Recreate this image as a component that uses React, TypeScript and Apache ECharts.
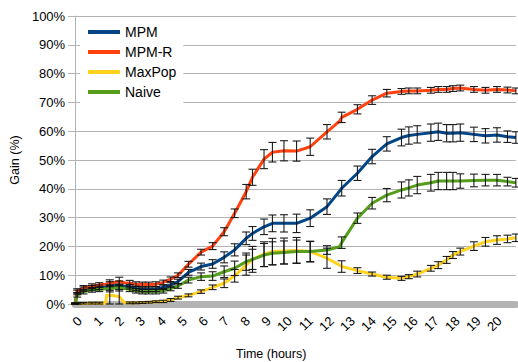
import React, { useEffect, useRef } from "react";
import * as echarts from "echarts";

const hours = [0, 0.1, 0.4, 0.8, 1.15, 1.45, 1.5, 1.65, 2.1, 2.35, 2.6, 2.9, 3.2, 3.5, 3.85, 4.2, 4.55, 4.9, 5.4, 6.0, 6.55, 7.1, 7.6, 8.15, 8.45, 9.0, 9.4, 9.95, 10.55, 11.2, 12.0, 12.6, 12.7, 13.45, 14.15, 14.85, 15.55, 15.9, 16.3, 16.95, 17.3, 17.7, 18.0, 18.35, 19.0, 19.55, 20.1, 20.6, 21.0];

const mpm = [0, 4.0, 5.1, 5.6, 5.8, 6.0, 6.1, 6.25, 6.5, 6.2, 6.0, 5.4, 5.1, 5.1, 5.1, 5.8, 6.6, 7.8, 11.0, 13.0, 13.9, 16.2, 18.8, 22.8, 24.5, 26.8, 28.0, 28.0, 28.0, 29.8, 33.8, 39.2, 40.2, 45.4, 51.2, 55.6, 57.8, 58.5, 58.9, 59.5, 59.8, 59.3, 59.3, 59.5, 58.9, 58.4, 58.7, 58.1, 57.8];
const mpmErr = [0.3, 0.8, 0.8, 0.8, 0.8, null, null, 1.5, 1.5, null, 0.8, 0.8, 0.8, 0.8, 0.8, 0.8, 0.8, 0.8, 1.0, 1.2, 1.5, 1.9, 2.1, 2.2, 2.4, 2.7, 2.9, 3.0, 3.2, 2.9, 2.7, null, 2.7, 2.5, 2.5, 2.5, 2.9, 3.0, 3.0, 3.0, 3.0, 3.0, 3.0, 3.0, 2.5, 2.5, 2.5, 2.0, 2.0];

const mpmR = [0, 4.5, 5.6, 6.2, 6.6, 6.9, 7.0, 7.2, 7.8, 7.4, 7.2, 6.9, 6.8, 6.8, 6.9, 7.5, 8.6, 10.0, 13.8, 18.0, 20.1, 25.1, 31.5, 39.0, 44.0, 50.3, 52.7, 53.2, 53.1, 54.6, 59.8, 63.5, 64.8, 67.6, 70.8, 73.2, 73.8, 74.0, 74.0, 74.2, 74.5, 74.5, 74.8, 75.0, 74.5, 74.2, 74.5, 74.3, 74.0];
const mpmRErr = [0.3, 0.8, 0.8, 0.8, 0.8, null, null, 1.2, 1.5, null, 1.0, 0.8, 0.8, 0.8, 0.8, 0.8, 0.8, 0.8, 1.0, 1.0, 1.2, 1.4, 1.5, 2.5, 2.8, 3.3, 3.4, 3.5, 3.5, 3.0, 2.5, null, 1.8, 1.6, 1.5, 1.3, 1.0, 1.0, 1.0, 1.0, 1.0, 1.0, 1.0, 1.0, 1.0, 1.0, 1.0, 1.0, 1.0];

const maxPop = [0, 0.2, 0.2, 0.3, 0.3, 0.3, 3.0, 3.0, 2.6, 0.4, 0.4, 0.4, 0.5, 0.6, 0.8, 0.9, 1.4, 2.2, 3.0, 4.3, 5.8, 7.2, 9.8, 13.5, 15.5, 17.3, 18.2, 18.4, 18.6, 18.2, 15.9, 13.5, 13.0, 11.6, 10.4, 9.3, 8.9, 9.5, 10.4, 12.4, 13.5, 15.3, 17.0, 18.2, 20.1, 21.6, 22.2, 22.6, 23.0];
const maxPopErr = [0.3, 0.3, 0.3, 0.3, 0.3, null, null, 3.5, 4.0, null, 0.3, 0.3, 0.3, 0.3, 0.3, 0.4, 0.5, 0.5, 0.5, 0.6, 0.8, 1.5, 2.2, 3.5, 4.5, 4.3, 4.6, 4.5, 4.5, 3.6, 3.5, null, 2.0, 1.0, 0.7, 0.7, 0.7, 0.7, 1.0, 1.0, 1.2, 1.2, 1.2, 1.2, 1.5, 1.5, 1.5, 1.3, 1.3];

const naive = [0, 3.2, 4.3, 4.9, 5.1, 5.3, 5.3, 5.4, 5.7, 5.4, 5.1, 4.6, 4.3, 4.3, 4.3, 4.6, 5.4, 6.25, 8.3, 9.5, 9.7, 11.2, 12.4, 14.7, 15.5, 17.0, 17.6, 17.9, 18.2, 18.2, 18.75, 19.9, 21.3, 29.8, 35.0, 37.8, 39.6, 40.3, 41.3, 42.1, 42.7, 42.7, 42.7, 42.7, 42.9, 43.0, 43.0, 42.5, 42.1];
const naiveErr = [0.3, 0.8, 0.8, 0.8, 0.8, null, null, 1.2, 1.2, null, 0.8, 0.8, 0.8, 0.8, 0.8, 0.8, 0.8, 0.8, 1.0, 1.3, 1.5, 2.0, 2.5, 3.0, 3.5, 4.0, 4.0, 4.0, 4.0, 3.5, 1.5, null, 2.0, 1.8, 2.0, 2.3, 2.8, 2.8, 3.0, 2.9, 3.0, 3.0, 3.0, 2.5, 2.2, 2.0, 2.0, 1.5, 1.5];

const seriesNames = ["MPM", "MPM-R", "MaxPop", "Naive"];
const seriesColors = ["#004586", "#ff420e", "#ffd320", "#579d1c"];
const seriesValues = [mpm, mpmR, maxPop, naive];
const seriesErrors = [mpmErr, mpmRErr, maxPopErr, naiveErr];

const yTicks = [0, 10, 20, 30, 40, 50, 60, 70, 80, 90, 100];

const FONT = "Liberation Sans, Arial, sans-serif";

export default function App() {
  const ref = useRef<HTMLDivElement>(null);

  useEffect(() => {
    if (!ref.current) return;
    const chart = echarts.init(ref.current, undefined, { renderer: "svg" });

    const lineSeries = seriesNames.map((name, s) => ({
      name,
      type: "line",
      data: hours.map((h, i) => [h, seriesValues[s][i]]),
      symbol: "none",
      showSymbol: false,
      lineStyle: { color: seriesColors[s], width: 3, join: "round" },
      itemStyle: { color: seriesColors[s] },
      z: 2,
    }));

    const errSeries = seriesNames.map((name, s) => ({
      name: name + " error",
      type: "custom",
      z: 3,
      data: hours
        .map((h, i) => {
          const e = seriesErrors[s][i];
          if (e == null) return null;
          const v = seriesValues[s][i];
          return [h, Math.max(0, v - e), v + e];
        })
        .filter((d) => d !== null),
      encode: { x: 0, y: [1, 2] },
      renderItem: (params: any, api: any) => {
        const x = api.value(0);
        const lo = api.coord([x, api.value(1)]);
        const hi = api.coord([x, api.value(2)]);
        const w = 4;
        const style = { stroke: "#111111", lineWidth: 1.1, opacity: 0.95 };
        return {
          type: "group",
          children: [
            { type: "line", shape: { x1: lo[0], y1: lo[1], x2: hi[0], y2: hi[1] }, style },
            { type: "line", shape: { x1: lo[0] - w, y1: lo[1], x2: lo[0] + w, y2: lo[1] }, style },
            { type: "line", shape: { x1: hi[0] - w, y1: hi[1], x2: hi[0] + w, y2: hi[1] }, style },
          ],
        };
      },
    }));

    chart.setOption({
      animation: false,
      textStyle: { fontFamily: FONT },
      grid: { left: 70, top: 16, right: 0, bottom: 58, containLabel: false },
      legend: {
        data: seriesNames.map((n) => ({ name: n, icon: "rect" })),
        orient: "vertical",
        left: 80,
        top: 18,
        padding: [7, 7, 7, 8],
        itemWidth: 32,
        itemHeight: 4,
        itemGap: 6,
        backgroundColor: "#ffffff",
        textStyle: { fontSize: 14, color: "#000", fontFamily: FONT, lineHeight: 14, padding: [0, 0, 0, 0] },
      },
      xAxis: {
        type: "value",
        min: 0,
        max: 21,
        interval: 1,
        offset: 3,
        axisLine: { show: true, lineStyle: { color: "#b3b3b3", width: 7 } },
        axisTick: { show: false },
        splitLine: { show: false },
        axisLabel: {
          rotate: 45,
          align: "right",
          verticalAlign: "top",
          margin: 7,
          fontSize: 13,
          color: "#000",
          fontFamily: FONT,
          formatter: (v: number) => (v >= 21 ? "" : String(v)),
        },
      },
      yAxis: {
        type: "value",
        min: yTicks[0],
        max: yTicks[yTicks.length - 1],
        interval: 10,
        name: "Gain (%)",
        nameLocation: "middle",
        nameGap: 49,
        nameTextStyle: { fontSize: 12.5, color: "#000", fontFamily: FONT },
        axisLine: { show: true, lineStyle: { color: "#b3b3b3", width: 1 } },
        axisTick: { show: true, length: 7, lineStyle: { color: "#b3b3b3" } },
        splitLine: { show: true, lineStyle: { color: "#b3b3b3", width: 1 } },
        axisLabel: {
          margin: 10,
          fontSize: 13,
          color: "#000",
          fontFamily: FONT,
          formatter: "{value}%",
        },
      },
      graphic: [
        {
          type: "text",
          left: 236,
          top: 347,
          style: { text: "Time (hours)", font: "12.5px " + FONT, fill: "#000" },
        },
      ],
      series: [...lineSeries, ...errSeries],
    });

    return () => chart.dispose();
  }, []);

  return (
    <div
      ref={ref}
      style={{ position: "fixed", left: 0, top: 0, width: 518, height: 362, background: "#fff" }}
    />
  );
}
